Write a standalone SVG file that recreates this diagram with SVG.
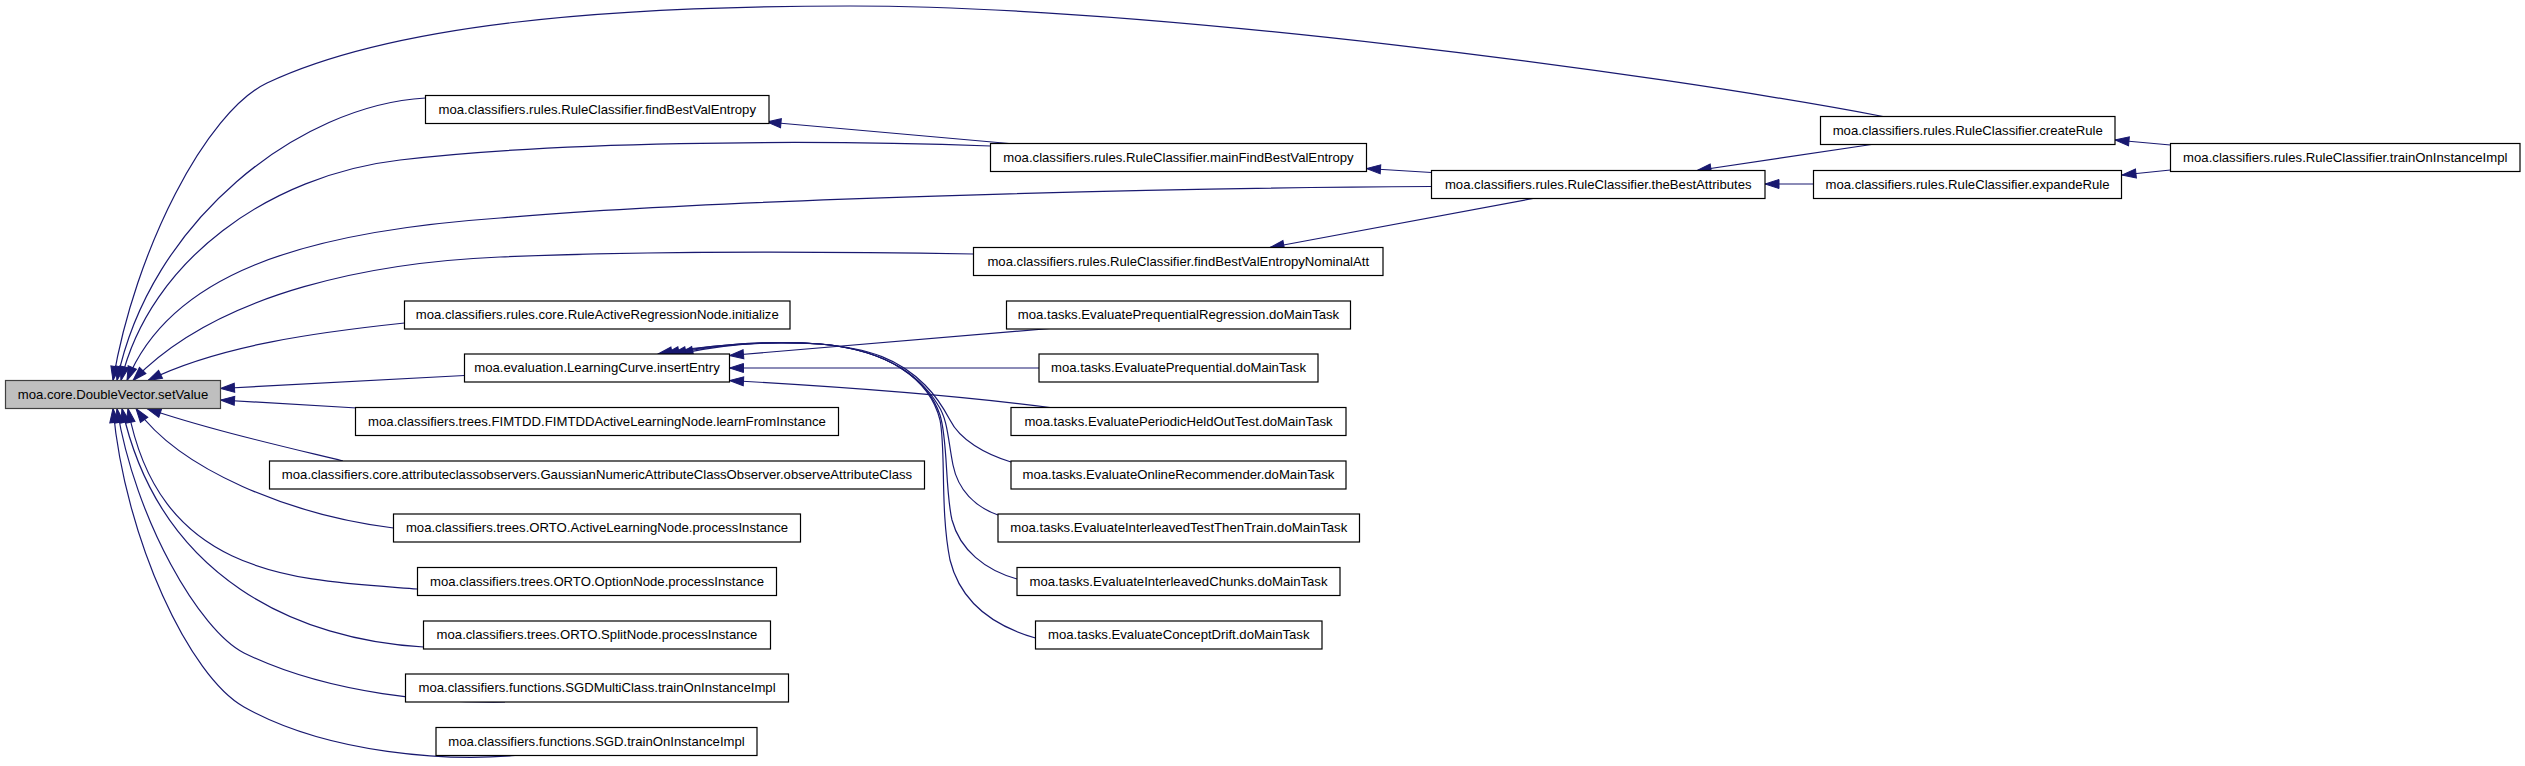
<svg xmlns="http://www.w3.org/2000/svg" width="2525" height="766" viewBox="0 0 2525 766">
<style>
.n rect{fill:#fff;stroke:#000;stroke-width:1.2}
.n.g rect{fill:#bfbfbf;stroke:#404040}
.n text{font-family:"Liberation Sans",Arial,sans-serif;font-size:13.15px;text-anchor:middle;fill:#000}
.e path{fill:none;stroke:#191970;stroke-width:1.2;marker-end:url(#ah)}
</style>
<defs>
<marker id="ah" markerUnits="userSpaceOnUse" markerWidth="14" markerHeight="10" refX="14" refY="5" orient="auto" viewBox="0 0 14 10" overflow="visible">
<path d="M0,0.5 L14,5 L0,9.5 z" fill="#191970" stroke="#191970" stroke-width="1"/>
</marker>
</defs>
<rect width="2525" height="766" fill="#fff"/>
<g id="edges" class="e">
<path d="M1883,116.5 C1650,72 1150,6 850,6 C600,6 390,25 267,83 C206,112 135,250 113,380.5"/>
<path d="M425.5,98 C300,105 150,220 117,380.5"/>
<path d="M990.5,146 C800,139 550,142 400,160 C270,175 150,260 121,380.5"/>
<path d="M1431.5,186.5 C1150,188 700,200 500,218 C300,232 170,275 127,380.5"/>
<path d="M973.5,254 C800,251 620,252 500,257 C380,262 220,290 133,380.5"/>
<path d="M404.5,323 C320,332 220,345 148,380.5"/>
<path d="M464.5,375.5 L220.5,388.5"/>
<path d="M357,408 L220.5,400"/>
<path d="M343,461 C290,448 210,430 147,408.5"/>
<path d="M393.5,528 C290,515 180,470 136,408.5"/>
<path d="M417.5,589 C300,580 160,580 128,408.5"/>
<path d="M423.5,647 C300,640 160,580 122,408.5"/>
<path d="M505,702 C440,703 330,695 244,653 C200,631 135,520 117,408.5"/>
<path d="M515,755.5 C450,761 330,755 244,707 C190,677 125,540 113,408.5"/>
<path d="M1050,328.5 L729.5,355.5"/>
<path d="M1039,368 L729.5,368"/>
<path d="M1050,407.5 C1000,401 900,390 729.5,380.5"/>
<path d="M1011,462 C985,454 960,440 950,420 C942,405 935,395 925,385 C900,360 870,348 820,344 C760,340 715,346 679,354"/>
<path d="M998,515 C975,507 958,490 953,465 C948,440 948,420 938,405 C920,375 885,350 820,344 C760,340 710,346 672,354"/>
<path d="M1017,579 C985,570 960,550 952,520 C945,490 948,440 940,415 C928,380 890,350 820,344 C760,340 705,346 665,354"/>
<path d="M1035.5,638 C990,625 960,600 950,560 C940,510 946,450 940,420 C930,380 890,350 820,344 C760,340 700,346 658,354"/>
<path d="M1009,143.5 L767,122"/>
<path d="M1431.5,172.5 L1366.5,168.5"/>
<path d="M1533,198.5 L1270,247.5"/>
<path d="M1871.5,144.5 L1697,170.5"/>
<path d="M1813.5,184 L1765,184"/>
<path d="M2170.5,145 L2115,140"/>
<path d="M2170.5,170 L2122,175"/>
</g>
<g id="n_setValue" class="n g"><rect x="5.5" y="380.5" width="215" height="28"/><text x="113" y="398.8">moa.core.DoubleVector.setValue</text></g>
<g id="n_findBestValEntropy" class="n"><rect x="425.5" y="95.5" width="343.5" height="28"/><text x="597.25" y="113.8">moa.classifiers.rules.RuleClassifier.findBestValEntropy</text></g>
<g id="n_mainFindBestValEntropy" class="n"><rect x="990.5" y="143.5" width="376" height="28"/><text x="1178.5" y="161.8">moa.classifiers.rules.RuleClassifier.mainFindBestValEntropy</text></g>
<g id="n_theBestAttributes" class="n"><rect x="1431.5" y="170.5" width="333.5" height="28"/><text x="1598.25" y="188.8">moa.classifiers.rules.RuleClassifier.theBestAttributes</text></g>
<g id="n_findBestValEntropyNominalAtt" class="n"><rect x="973.5" y="247.5" width="409.5" height="28"/><text x="1178.25" y="265.8">moa.classifiers.rules.RuleClassifier.findBestValEntropyNominalAtt</text></g>
<g id="n_createRule" class="n"><rect x="1820.5" y="116.5" width="294.5" height="28"/><text x="1967.75" y="134.8">moa.classifiers.rules.RuleClassifier.createRule</text></g>
<g id="n_expandeRule" class="n"><rect x="1813.5" y="170.5" width="308" height="28"/><text x="1967.5" y="188.8">moa.classifiers.rules.RuleClassifier.expandeRule</text></g>
<g id="n_rulesTrainOnInstanceImpl" class="n"><rect x="2170.5" y="143.5" width="349.5" height="28"/><text x="2345.25" y="161.8">moa.classifiers.rules.RuleClassifier.trainOnInstanceImpl</text></g>
<g id="n_initialize" class="n"><rect x="404.5" y="301" width="385.5" height="28"/><text x="597.25" y="319.3">moa.classifiers.rules.core.RuleActiveRegressionNode.initialize</text></g>
<g id="n_insertEntry" class="n"><rect x="464.5" y="354" width="265" height="28"/><text x="597" y="372.3">moa.evaluation.LearningCurve.insertEntry</text></g>
<g id="n_learnFromInstance" class="n"><rect x="355.5" y="407.5" width="483" height="28"/><text x="597" y="425.8">moa.classifiers.trees.FIMTDD.FIMTDDActiveLearningNode.learnFromInstance</text></g>
<g id="n_observeAttributeClass" class="n"><rect x="269.5" y="461" width="655" height="28"/><text x="597" y="479.3">moa.classifiers.core.attributeclassobservers.GaussianNumericAttributeClassObserver.observeAttributeClass</text></g>
<g id="n_activeLearningNode" class="n"><rect x="393.5" y="514" width="407" height="28"/><text x="597" y="532.3">moa.classifiers.trees.ORTO.ActiveLearningNode.processInstance</text></g>
<g id="n_optionNode" class="n"><rect x="417.5" y="567.5" width="359" height="28"/><text x="597" y="585.8">moa.classifiers.trees.ORTO.OptionNode.processInstance</text></g>
<g id="n_splitNode" class="n"><rect x="423.5" y="621" width="347" height="28"/><text x="597" y="639.3">moa.classifiers.trees.ORTO.SplitNode.processInstance</text></g>
<g id="n_sgdMultiClass" class="n"><rect x="405.5" y="674" width="383" height="28"/><text x="597" y="692.3">moa.classifiers.functions.SGDMultiClass.trainOnInstanceImpl</text></g>
<g id="n_sgd" class="n"><rect x="436" y="727.5" width="321" height="28"/><text x="596.5" y="745.8">moa.classifiers.functions.SGD.trainOnInstanceImpl</text></g>
<g id="n_prequentialRegression" class="n"><rect x="1006.5" y="301" width="344" height="28"/><text x="1178.5" y="319.3">moa.tasks.EvaluatePrequentialRegression.doMainTask</text></g>
<g id="n_prequential" class="n"><rect x="1039" y="354" width="279" height="28"/><text x="1178.5" y="372.3">moa.tasks.EvaluatePrequential.doMainTask</text></g>
<g id="n_periodicHeldOutTest" class="n"><rect x="1011" y="407.5" width="335" height="28"/><text x="1178.5" y="425.8">moa.tasks.EvaluatePeriodicHeldOutTest.doMainTask</text></g>
<g id="n_onlineRecommender" class="n"><rect x="1011" y="461" width="335" height="28"/><text x="1178.5" y="479.3">moa.tasks.EvaluateOnlineRecommender.doMainTask</text></g>
<g id="n_interleavedTestThenTrain" class="n"><rect x="998" y="514" width="361.5" height="28"/><text x="1178.75" y="532.3">moa.tasks.EvaluateInterleavedTestThenTrain.doMainTask</text></g>
<g id="n_interleavedChunks" class="n"><rect x="1017" y="567.5" width="323" height="28"/><text x="1178.5" y="585.8">moa.tasks.EvaluateInterleavedChunks.doMainTask</text></g>
<g id="n_conceptDrift" class="n"><rect x="1035.5" y="621" width="286.5" height="28"/><text x="1178.75" y="639.3">moa.tasks.EvaluateConceptDrift.doMainTask</text></g>
</svg>
